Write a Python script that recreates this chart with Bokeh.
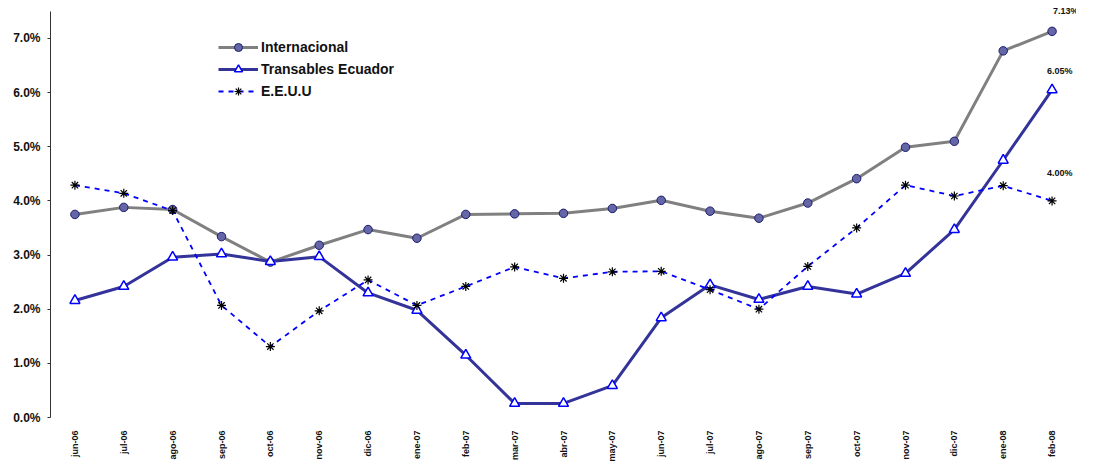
from bokeh.plotting import figure
from bokeh.models import (ColumnDataSource, FactorRange, Range1d, PrintfTickFormatter,
                          FixedTicker, Legend, LegendItem, Label)
from bokeh.embed import file_html
from bokeh.resources import INLINE

months = ["jun-06", "jul-06", "ago-06", "sep-06", "oct-06", "nov-06", "dic-06",
          "ene-07", "feb-07", "mar-07", "abr-07", "may-07", "jun-07", "jul-07",
          "ago-07", "sep-07", "oct-07", "nov-07", "dic-07", "ene-08", "feb-08"]

internacional = [3.75, 3.88, 3.84, 3.34, 2.87, 3.18, 3.47, 3.31, 3.75, 3.76, 3.77,
                 3.86, 4.01, 3.81, 3.68, 3.96, 4.41, 4.99, 5.10, 6.77, 7.13]
transables = [2.16, 2.42, 2.96, 3.02, 2.88, 2.97, 2.30, 1.98, 1.15, 0.26, 0.26,
              0.59, 1.84, 2.45, 2.18, 2.42, 2.28, 2.66, 3.47, 4.75, 6.05]
eeuu = [4.29, 4.14, 3.82, 2.07, 1.31, 1.97, 2.54, 2.07, 2.42, 2.78, 2.57,
        2.69, 2.70, 2.36, 2.00, 2.79, 3.50, 4.29, 4.09, 4.28, 4.00]

y_ticks = [0, 1, 2, 3, 4, 5, 6, 7]

src = ColumnDataSource(dict(m=months, a=internacional, b=transables, c=eeuu))

FONT = "Liberation Sans"

p = figure(width=1076, height=464, x_range=FactorRange(*months, range_padding=0),
           y_range=Range1d(0, 7.7), output_backend="svg", toolbar_location=None,
           min_border_top=0, min_border_right=0, min_border_left=50, min_border_bottom=47)
p.outline_line_color = None
p.xgrid.grid_line_color = None
p.ygrid.grid_line_color = None
p.background_fill_color = "white"

# y axis
p.yaxis.ticker = FixedTicker(ticks=y_ticks)
p.yaxis.bounds = (0, 7.5)
p.yaxis.formatter = PrintfTickFormatter(format="%.1f%%")
p.yaxis.axis_line_color = "#333333"
p.yaxis.major_tick_line_color = "#333333"
p.yaxis.major_tick_in = 0
p.yaxis.major_tick_out = 3
p.yaxis.minor_tick_line_color = None
p.yaxis.major_label_standoff = 7
p.yaxis.major_label_text_font = FONT
p.yaxis.major_label_text_font_style = "bold"
p.yaxis.major_label_text_font_size = "12px"
p.yaxis.major_label_text_color = "#111111"

# x axis
p.xaxis.axis_line_color = None
p.xaxis.major_tick_line_color = None
p.xaxis.minor_tick_line_color = None
p.xaxis.major_label_orientation = 3.14159265 / 2
p.xaxis.major_label_standoff = 7
p.xaxis.major_label_text_font = FONT
p.xaxis.major_label_text_font_style = "bold"
p.xaxis.major_label_text_font_size = "9px"
p.xaxis.major_label_text_color = "#111111"

# series
la = p.line("m", "a", source=src, line_color="#808080", line_width=3)
ma = p.scatter("m", "a", source=src, marker="circle", size=8.5,
               fill_color="#6466a6", line_color="#1c1c70", line_width=1)
lb = p.line("m", "b", source=src, line_color="#333399", line_width=3)
mb = p.scatter("m", "b", source=src, marker="triangle", size=10,
               fill_color="white", line_color="#0000ff", line_width=1.5)
lc = p.line("m", "c", source=src, line_color="#0000ff", line_width=1.8, line_dash="5 5")
mc = p.scatter("m", "c", source=src, marker="asterisk", size=9,
               line_color="#000000", line_width=1.2)

legend = Legend(items=[
    LegendItem(label="Internacional", renderers=[la, ma]),
    LegendItem(label="Transables Ecuador", renderers=[lb, mb]),
    LegendItem(label="E.E.U.U", renderers=[lc, mc]),
], location=(168, 316))
legend.border_line_color = None
legend.background_fill_alpha = 0
legend.padding = 0
legend.margin = 0
legend.spacing = 2
legend.glyph_width = 40
legend.glyph_height = 20
legend.label_height = 20
legend.label_standoff = 3
legend.label_text_font = FONT
legend.label_text_font_style = "bold"
legend.label_text_font_size = "14px"
legend.label_text_color = "#111111"
p.add_layout(legend, "center")

# end labels
last_x = len(months) - 0.5
end_labels = [("7.13%", internacional[-1], 1, 20), ("6.05%", transables[-1], -5, 19),
              ("4.00%", eeuu[-1], -5, 28)]
for txt, yv, xo, yo in end_labels:
    p.add_layout(Label(x=last_x, y=yv, text=txt, x_offset=xo, y_offset=yo,
                       text_font=FONT, text_font_style="bold", text_font_size="9px",
                       text_color="#111111", text_align="left", text_baseline="middle"))

open("out.html", "w").write(file_html(p, INLINE))
